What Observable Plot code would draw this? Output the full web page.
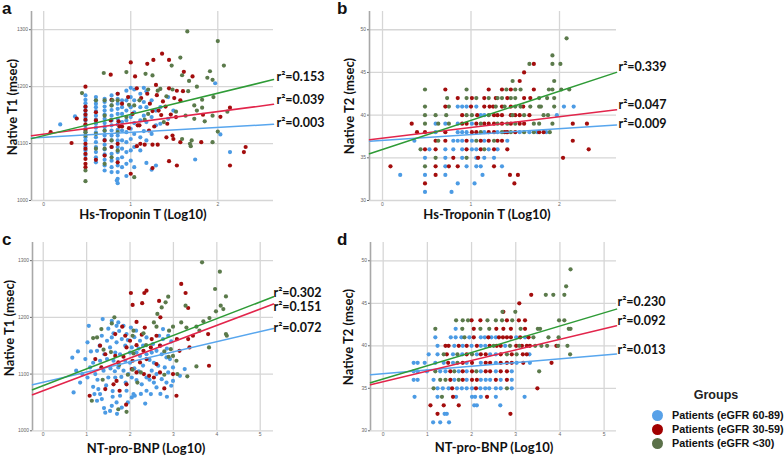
<!DOCTYPE html>
<html><head><meta charset="utf-8">
<script src="https://cdn.jsdelivr.net/npm/d3@7"></script>
<script src="https://cdn.jsdelivr.net/npm/@observablehq/plot@0.6"></script>
<style>
body{margin:0;background:#fff;}
#root{position:relative;width:784px;height:458px;overflow:hidden;background:#fff;font-family:"Liberation Sans",Arial,sans-serif;}
.pn{position:absolute;}
.pn svg{background:transparent !important;max-width:none !important;}
.t{position:absolute;white-space:nowrap;font-family:Lato,sans-serif;font-weight:bold;color:#111;transform:translate(-50%,-50%);}
.tv{transform:translate(-50%,-50%) rotate(-90deg);}
.let{position:absolute;font-family:"Liberation Sans",Arial,sans-serif;font-weight:bold;font-size:17px;color:#111;line-height:1;}
.leg{position:absolute;font-family:"Liberation Sans",Arial,sans-serif;}
</style></head>
<body><div id="root"></div>
<script>
// ---------- categories / ticks ----------
const GROUPS = ["Patients (eGFR 60-89)", "Patients (eGFR 30-59)", "Patients (eGFR <30)"];
const T1_TICKS = [1000, 1100, 1200, 1300];
const T2_TICKS = [30, 35, 40, 45, 50];
const TROP_TICKS = [0, 1, 2];
const BNP_TICKS = [0, 1, 2, 3, 4, 5];

// ---------- fitted lines: [intercept, slope] for blue, red, green ----------
const aFits = [[1111.2, 8.55], [1116.6, 19.8], [1113.9, 37.3]];
const bFits = [[37.05, 0.68], [37.29, 1.26], [35.97, 3.42]];
const cFits = [[1085.5, 17.9], [1070.7, 28.8], [1079.7, 29.5]];
const dFits = [[36.72, 0.437], [35.77, 1.248], [36.1, 1.556]];
const aR2 = ["0.003", "0.039", "0.153"];
const bR2 = ["0.009", "0.047", "0.339"];
const cR2 = ["0.072", "0.151", "0.302"];
const dR2 = ["0.013", "0.092", "0.230"];

// ---------- panel a: Hs-Troponin T vs Native T1 ----------
const aBlueCols = [
 [0.48,[1184.6,1177,1171,1164,1158,1152,1146.5,1140.6,1132,1126,1120,1111,1105.5,1095,1088,1080]],
 [0.60,[1181.6,1176,1170,1164,1157,1149,1142,1135,1128,1119.5,1111,1102.5,1094,1085,1076,1067]],
 [0.70,[1178.7,1173,1165,1158,1151,1143.5,1136,1129,1122,1114,1106.6,1098,1089.6,1081,1071.5,1061.5,1052.7]],
 [0.78,[1184.6,1176,1167,1159,1149,1140.6,1132,1123,1114,1105.5,1094,1082,1070,1058.6,1050]],
 [0.85,[1187.5,1178.7,1170,1161,1152,1143.5,1133.6,1124,1114,1105.5,1094,1085,1073,1061.5,1050,1038,1030.5]],
 [0.90,[1176,1164,1152,1137.7,1123,1105.5,1091,1076,1058.6]],
 [0.95,[1193,1176,1158,1140.6,1120,1102.5,1085,1064.5,1043]],
 [1.00,[1198,1181.6,1164,1146.5,1126,1108,1088,1070]],
 [1.04,[1195,1176,1155,1136,1117,1094,1058.6]],
 [1.11,[1187.5,1164,1140.6,1111,1088]],
 [1.15,[1198,1173,1149,1122]],
 [1.18,[1192,1164,1137.7,1105.5,1066]],
 [1.24,[1176,1146.5,1117,1054]],
 [1.29,[1158,1132,1061.5]],
 [1.34,[1164,1134.8]],
 [1.43,[1181.6,1143.5]],
 [1.49,[1158]]
];
const aBlueExtra = [[0.19,1133.6],[0.36,1147.6],[1.97,1206],[2.03,1116],[2.14,1085],[1.74,1072],[0.84,1035]];
const aRedCols = [
 [0.48,[1165,1158,1150.6,1142,1133.6,1124,1099.6,1091,1082,1073,1064.5,1058.6]],
 [0.60,[1155,1140.6]],
 [0.70,[1105.5,1079]],
 [0.78,[1177,1094]],
 [0.85,[1099.6,1067]],
 [0.90,[1170,1130]]
];
const aRedPairs = [[1.36,1258],[1.0,1242.6],[1.19,1240],[1.26,1247],[1.44,1247],[0.77,1221],[1.61,1226],[1.71,1218],[1.05,1218],[1.29,1203],[1.53,1192.8],[1.60,1192],[1.07,1197],[1.44,1197],[0.48,1200],[0.85,1187.5],[0.97,1181.6],[1.19,1187.5],[1.57,1176],[1.37,1174],[2.14,1163],[2.03,1147],[1.32,1158],[1.25,1157],[1.46,1151],[1.52,1146.5],[1.35,1150],[1.83,1150.6],[1.42,1134.8],[1.27,1130],[1.10,1132],[1.21,1123],[1.02,1152],[1.08,1132],[0.98,1127],[0.86,1139],[0.87,1130],[0.77,1140.6],[0.38,1144],[0.08,1120],[0.32,1101],[1.07,1095.5],[1.11,1099.6],[1.16,1098],[1.31,1098],[1.41,1111],[1.48,1114],[1.49,1108],[1.57,1102.5],[1.81,1102.5],[2.32,1094],[2.30,1085],[2.14,1061.5],[1.25,1098],[1.25,1057],[1.53,1061.5],[1.44,1069],[1.0,1047],[0.6,1071.5],[1.12,1180],[1.22,1170],[1.40,1165],[1.50,1180],[1.30,1185]];
const aGreenPairs = [[1.65,1297],[2.0,1280],[1.57,1251],[1.47,1237],[2.07,1237],[0.95,1225.6],[0.69,1224],[1.17,1222.6],[1.59,1220],[1.91,1227],[1.88,1215.6],[1.94,1212],[1.25,1219.7],[1.34,1196],[1.48,1195],[1.66,1192],[1.76,1200],[1.67,1210],[1.31,1193],[0.44,1188.7],[0.79,1176],[1.10,1176],[1.41,1183],[1.82,1177],[1.73,1167],[1.82,1163],[1.95,1181.6],[2.11,1156],[1.52,1156],[1.63,1149],[1.73,1143.5],[1.76,1158],[1.85,1139],[1.94,1149],[1.38,1137.7],[1.16,1142],[1.20,1152],[1.70,1105.5],[1.59,1108],[1.68,1099.6],[1.94,1102.5],[2.0,1121],[1.69,1095.5],[1.04,1041],[0.48,1034],[0.48,1052.7],[0.48,1120],[0.48,1114],[0.60,1176],[0.60,1117],[0.60,1091],[0.70,1176],[0.70,1149],[0.70,1123],[0.70,1091],[0.70,1064.5],[0.78,1167],[0.78,1105.5],[0.78,1076],[0.85,1176],[0.85,1120],[0.85,1088],[0.95,1146.5],[1.04,1167],[0.98,1168],[1.2,1195]];

// ---------- panel b: Hs-Troponin T vs Native T2 (rows: [T2, [log10 values]]) ----------
const bBlueRows = [[41,[0.85,0.90,0.95,1.06,2.05,2.16]],[40,[1.11,1.15,1.97]],[39,[0.60,0.71,0.85,1.01]],[38,[0.60,0.85,0.90,0.95,1.15,1.30,1.40,1.55,1.66,1.75,1.85]],[37,[0.36,0.80,0.85,0.90,1.01,1.15,1.41]],[36,[0.53,0.71,0.80,0.90,1.01,1.06,1.20,1.30]],[35,[0.48,0.71,0.90,1.06,1.15,1.26]],[34,[0.71,0.95,1.06,1.11,1.35]],[33,[0.20,0.48,0.71,1.13]],[32,[0.85,1.04]],[31,[0.48,0.78]]];
const bRedRows = [[46,[1.71]],[45,[1.60]],[44,[1.55]],[43,[0.71,1.20,1.35,1.45,1.71]],[42,[0.85,1.01,1.15,1.28,1.41,1.60,1.67]],[41,[0.71,1.00,1.15,1.21,1.25,1.35,1.45,1.59]],[40,[0.90,1.07,1.26,1.30,1.35,1.45,1.50,1.55,1.66]],[39,[0.33,0.90,0.95,1.06,1.15,1.20,1.26,1.35,1.45,1.55,1.60,2.15,2.31]],[38,[0.39,0.48,0.71,1.01,1.06,1.20,1.26,1.38,1.41,1.50,1.77,1.82]],[37,[0.60,0.71,0.95,1.11,1.20,1.30,1.35,2.15]],[36,[0.48,0.60,0.95,1.11,1.26,1.41,2.33]],[35,[0.80,1.08,2.04]],[34,[0.09,0.60,0.75,0.85,1.26]],[33,[0.60,1.44,1.53]],[32,[0.48,1.49]]];
const bGreenRows = [[49,[2.08]],[47,[1.92]],[46,[1.66,1.92,2.01]],[44,[1.47,1.94]],[43,[0.48,0.95,1.40,1.50,1.56,1.88,1.92,2.02,2.11]],[42,[0.73,0.95,1.06,1.20,1.30,1.35,1.45,1.50,1.77,1.86,1.94]],[41,[0.48,0.75,1.28,1.38,1.50,1.56,1.67,1.77,1.79,1.94]],[40,[0.48,0.60,0.72,0.95,1.01,1.20,1.47,1.60,1.82,1.87]],[39,[0.48,0.63,0.75,1.11,1.30,1.41,1.50,1.71,1.77,1.92]],[38,[1.11,1.35,1.45,1.60,1.71,1.89]],[37,[0.63,1.06,1.26]],[36,[0.43,1.15]],[35,[0.60,0.95]],[34,[0.48]]];

// ---------- panel c: NT-pro-BNP vs Native T1 ----------
const cBluePairs = [[0.67,1129],[0.70,1067.6],[0.76,1106],[0.85,1085],[1.02,1094],[1.05,1185],[1.02,1156],[1.15,1077.6],[1.24,1053],[1.27,1073.5],[1.18,1064.7],[1.31,1064.7],[1.35,1056],[1.43,1032],[1.54,1035],[1.58,1044],[1.58,1194],[1.69,1185],[1.73,1191],[1.47,1158.8],[1.58,1164.7],[1.69,1156],[1.81,1161.8],[1.89,1150],[2.0,1138],[2.04,1147],[2.15,1138],[2.23,1132],[2.38,1135],[2.50,1138],[2.61,1141],[2.73,1135],[2.84,1129.4],[2.92,1126.5],[1.31,1123.5],[1.47,1126.5],[1.62,1123.5],[1.73,1111.8],[1.85,1106],[1.96,1100],[2.04,1094],[2.15,1089.4],[2.27,1082],[2.38,1094],[2.50,1106],[2.61,1100],[2.73,1091],[2.84,1085],[2.95,1079.4],[2.38,1070.6],[2.08,1064.7],[1.92,1070.6],[1.77,1061.8],[1.69,1050],[1.81,1041],[2.04,1058.8],[2.11,1061.8],[2.61,1076.5],[2.48,1064.7],[1.39,1106],[1.50,1094],[1.66,1094],[1.20,1100],[1.08,1111.8],[0.97,1126.5],[1.24,1141],[1.35,1167.6],[1.54,1147],[1.41,1135],[1.66,1138],[1.77,1135],[1.89,1123.5],[1.92,1170.6],[2.02,1182],[2.14,1176.5],[2.23,1158.8],[2.38,1164.7],[2.53,1153],[2.67,1167.6],[2.76,1161.8],[2.88,1167.6],[2.95,1157.6],[2.76,1179.4],[2.65,1114.7],[2.80,1111.8],[2.88,1103],[2.99,1088],[3.15,1097],[3.26,1108.8],[2.99,1111.8],[1.37,1197],[1.50,1180],[1.62,1172],[1.75,1176],[1.85,1185],[1.95,1160],[2.10,1165],[2.20,1145],[2.30,1150],[2.45,1125],[2.55,1120],[2.70,1150],[2.85,1145],[1.55,1110],[1.65,1105],[1.80,1095],[1.90,1085],[2.00,1120],[2.10,1110],[2.20,1105],[2.30,1115],[2.45,1090],[2.55,1085],[2.70,1065],[2.85,1060],[1.45,1080],[1.60,1070],[1.25,1090],[1.10,1140],[1.30,1150],[1.15,1120],[0.90,1100],[0.80,1140],[1.95,1050],[2.25,1065],[2.35,1048],[1.60,1060],[1.40,1040],[1.70,1030]];
const cRedPairs = [[3.18,1259],[2.02,1243],[2.38,1247],[2.33,1243],[3.28,1243],[3.34,1216.5],[2.67,1229],[2.28,1225],[2.70,1200],[2.06,1222],[2.15,1192],[2.34,1182],[2.27,1169.4],[2.50,1161.8],[2.61,1167.6],[1.82,1183.5],[1.66,1170.6],[1.89,1167.6],[2.0,1158.8],[1.92,1147],[2.15,1151],[2.31,1141],[2.48,1147],[2.69,1150],[3.08,1161.8],[3.34,1161.8],[3.45,1167.6],[3.80,1170.6],[3.37,1147],[3.14,1141],[3.82,1114.7],[1.31,1150],[1.43,1135],[1.20,1126.5],[1.66,1132],[1.85,1130.6],[1.73,1120.6],[2.06,1123.5],[2.23,1120.6],[2.38,1126.5],[2.61,1117.6],[2.04,1108.8],[2.15,1103],[2.32,1100],[2.44,1097],[2.55,1094],[2.69,1103],[2.99,1100],[1.69,1088],[1.62,1082],[1.92,1082],[1.76,1070.6],[1.43,1073.5],[1.07,1061.8],[1.91,1046],[3.07,1061.8],[2.79,1074.7],[1.34,1111.8]];
const cGreenPairs = [[3.66,1297],[4.07,1280.6],[3.96,1250],[4.21,1237],[2.88,1236.5],[2.82,1226.5],[3.28,1220.6],[4.09,1220.6],[3.98,1210.6],[4.15,1214.7],[3.83,1198.8],[3.69,1193],[3.18,1191],[3.30,1182],[3.53,1183.5],[3.60,1176.5],[4.21,1170.6],[4.23,1167.6],[3.82,1147],[3.53,1113.5],[3.32,1096],[2.99,1183.5],[2.90,1176.5],[2.61,1183.5],[2.55,1191],[2.31,1171.8],[2.06,1167.6],[2.08,1176.5],[1.64,1200],[1.58,1189.4],[1.34,1179.4],[1.24,1164.7],[1.15,1163.5],[1.39,1143],[1.56,1138.8],[2.08,1136.5],[2.37,1151],[2.89,1130.6],[2.99,1132],[2.94,1144],[2.79,1140],[3.07,1123.5],[2.79,1098.8],[3.09,1100],[2.25,1103],[1.95,1098.8],[1.75,1116],[2.06,1107.6],[1.37,1090],[1.12,1053],[1.73,1038],[1.92,1033.5],[2.17,1085],[2.63,1206],[2.73,1217.6]];

// ---------- panel d: NT-pro-BNP vs Native T2 (rows) ----------
const dBlueRows = [[42,[1.64]],[41,[1.18,1.53,1.64,1.77,1.95,2.21,2.30,2.45,2.55,3.01,3.21]],[40,[1.23,1.61,1.80,2.00,2.21,2.31,2.76]],[39,[1.03,1.23,1.58,1.79,2.12,2.42,2.55,3.31]],[38,[0.69,0.78,0.94,1.18,1.37,1.58,1.89,2.21,2.55,3.02,3.32]],[37,[0.69,0.78,0.99,1.29,1.41,1.71,1.89,2.21,2.55,2.91]],[36,[0.69,0.78,1.14,1.61,1.89,2.21,2.32,2.42,2.66,2.91]],[35,[1.23,1.35,1.48,1.67,1.78,1.89,2.01,2.20,2.31,2.40,2.55,2.66,2.91]],[34,[0.71,1.23,1.65,2.01,2.08,2.21,2.55,3.20]],[33,[2.06,2.12,2.65]],[32,[1.39,1.44]],[31,[1.13,1.29,1.49]]];
const dRedRows = [[46,[3.35]],[45,[3.08]],[44,[2.72]],[43,[2.00,2.20,2.80,3.07,3.21]],[42,[2.05,2.56,2.72,2.89,3.21]],[41,[2.05,2.38,2.62,2.71,2.80,2.89,3.10,3.29]],[40,[1.41,1.48,1.71,1.89,2.12,2.41,2.57,2.66,3.01,3.14,3.25,3.32,3.92]],[39,[1.44,1.89,2.21,2.32,2.66,2.91,3.16,3.25]],[38,[1.47,1.80,2.01,2.32,2.42,2.66,2.80,2.91,3.17,3.81]],[37,[1.52,1.80,2.01,2.32,2.42,2.66,2.80]],[36,[1.52,1.80,2.01,2.12,2.55,2.80]],[35,[1.56,2.10,3.49]],[34,[1.58,2.35]],[33,[1.07,1.37,1.71]],[32,[1.23,2.88]]];
const dGreenRows = [[49,[4.24]],[47,[4.14]],[46,[3.68,3.85,4.10]],[44,[2.70,2.99]],[43,[1.65,1.80,1.92,2.36,2.55,2.69,2.92,3.98,4.10]],[42,[1.18,1.79,2.20,2.40,3.11,3.50,3.55,4.20,4.24]],[41,[1.84,3.40,3.74,3.97]],[40,[2.50,2.87,3.08,3.44,3.58,3.71,3.96,4.17]],[39,[1.37,1.68,2.01,2.80,3.02,4.23]],[38,[1.68]],[37,[1.18,1.61,2.11,3.53]],[36,[1.29,1.41,1.71]],[35,[1.14,2.80]],[34,[1.33]]];

// ---------- styles ----------
const DOT_COLORS = ["#4c9be4", "#a30d0d", "#5b7a4b"];
const LINE_COLORS = ["#58a6ee", "#e2254b", "#2e9b36"];
const LEGEND_COLORS = ["#58a1e8", "#a10000", "#5b7149"];

const fromCols = (cols, g) => cols.flatMap(([x, ys]) => ys.map(y => ({x, y, g})));
const fromRows = (rows, g) => rows.flatMap(([y, xs]) => xs.map(x => ({x, y, g})));
const fromPairs = (pairs, g) => pairs.map(([x, y]) => ({x, y, g}));

const root = document.getElementById("root");
const intFmt = d3.format("d");

function panel(o) {
  const fw = o.frame[2] - o.frame[0], fh = o.frame[3] - o.frame[1];
  const ML = 30, MR = 62, MT = 11, MB = 12;
  const marks = [
    Plot.ruleY(o.yTicks, {stroke: "#d6d6d6", strokeWidth: 1.3}),
    Plot.ruleX(o.xTicks, {stroke: "#d6d6d6", strokeWidth: 1.3}),
    Plot.ruleX([o.xDomain[0]], {stroke: "#a8a8a8", strokeWidth: 1.6}),
    Plot.dot(o.points, {x: "x", y: "y", r: 2.1, fill: d => DOT_COLORS[d.g], stroke: "none"})
  ];
  o.fits.forEach(([b0, b1], i) => {
    const seg = o.xDomain.map(x => ({x, y: b0 + b1 * x}));
    marks.push(Plot.line(seg, {x: "x", y: "y", stroke: LINE_COLORS[i], strokeWidth: 1.5}));
  });
  o.fits.forEach(([b0, b1], i) => {
    const xe = o.xDomain[1];
    marks.push(Plot.text([{x: xe, y: b0 + b1 * xe, t: "r\u00b2=" + o.r2[i]}], {
      x: "x", y: "y", text: "t", textAnchor: "start", dx: o.dx, dy: o.dy[i],
      fontFamily: "Lato, sans-serif", fontWeight: "bold", fontSize: 12.5, fill: "#111", clip: false
    }));
  });
  const svg = Plot.plot({
    width: ML + fw + MR, height: MT + fh + MB,
    marginLeft: ML, marginRight: MR, marginTop: MT, marginBottom: MB,
    style: {fontFamily: "Liberation Sans, Arial, sans-serif", fontSize: "5px", color: "#666", background: "transparent", overflow: "visible"},
    x: {domain: o.xDomain, ticks: o.xTicks, tickFormat: intFmt, tickSize: 0, tickPadding: 2, label: null},
    y: {domain: o.yDomain, ticks: o.yTicks, tickFormat: intFmt, tickSize: 2, tickPadding: 1.5, label: null},
    marks
  });
  const div = document.createElement("div");
  div.className = "pn";
  div.style.left = (o.frame[0] - ML) + "px";
  div.style.top = (o.frame[1] - MT) + "px";
  div.appendChild(svg);
  root.appendChild(div);
}

panel({frame: [31, 11, 273, 200], xDomain: [-0.14, 2.64], yDomain: [1000, 1332], xTicks: TROP_TICKS, yTicks: T1_TICKS,
  points: [...fromCols(aBlueCols, 0), ...fromPairs(aBlueExtra, 0), ...fromCols(aRedCols, 1), ...fromPairs(aRedPairs, 1), ...fromPairs(aGreenPairs, 2)],
  fits: aFits, r2: aR2, dx: 3, dy: [-1, -4, -3]});
panel({frame: [369, 11, 616, 200], xDomain: [-0.147, 2.644], yDomain: [30, 52.14], xTicks: TROP_TICKS, yTicks: T2_TICKS,
  points: [...fromRows(bBlueRows, 0), ...fromRows(bRedRows, 1), ...fromRows(bGreenRows, 2)],
  fits: bFits, r2: bR2, dx: 2, dy: [-1, -5, -5]});
panel({frame: [32, 241.7, 273, 430], xDomain: [-0.247, 5.306], yDomain: [1000, 1332], xTicks: BNP_TICKS, yTicks: T1_TICKS,
  points: [...fromPairs(cBluePairs, 0), ...fromPairs(cRedPairs, 1), ...fromPairs(cGreenPairs, 2)],
  fits: cFits, r2: cR2, dx: 0, dy: [0, 3, -4]});
panel({frame: [370, 241.7, 616, 430], xDomain: [-0.287, 5.28], yDomain: [30, 52.15], xTicks: BNP_TICKS, yTicks: T2_TICKS,
  points: [...fromRows(dBlueRows, 0), ...fromRows(dRedRows, 1), ...fromRows(dGreenRows, 2)],
  fits: dFits, r2: dR2, dx: 1, dy: [-4, -5, -7]});

// ---------- text: letters, axis titles ----------
function txt(cls, s, x, y, size) {
  const d = document.createElement("div");
  d.className = cls; d.textContent = s;
  d.style.left = x + "px"; d.style.top = y + "px";
  if (size) d.style.fontSize = size + "px";
  root.appendChild(d);
  return d;
}
txt("let", "a", 2, 0); txt("let", "b", 337, 0); txt("let", "c", 2, 231); txt("let", "d", 337, 231);
txt("t tv", "Native T1 (msec)", 12, 107, 13);
txt("t tv", "Native T2 (msec)", 349, 106, 13);
txt("t tv", "Native T1 (msec)", 9, 328, 13);
txt("t tv", "Native T2 (msec)", 348, 337, 13);
txt("t", "Hs-Troponin T (Log10)", 143, 214, 13);
txt("t", "Hs-Troponin T (Log10)", 487, 214, 13);
txt("t", "NT-pro-BNP (Log10)", 146, 448, 13);
txt("t", "NT-pro-BNP (Log10)", 494, 447, 13);

// ---------- legend ----------
const lt = txt("leg", "Groups", 716, 395, 12.5);
lt.style.transform = "translate(-50%,-50%)"; lt.style.fontWeight = "bold"; lt.style.color = "#222";
GROUPS.forEach((g, i) => {
  const y = 415 + i * 14;
  const c = document.createElement("div");
  c.style.cssText = `position:absolute;left:651.5px;top:${y - 5.5}px;width:11px;height:11px;border-radius:50%;background:${LEGEND_COLORS[i]};`;
  root.appendChild(c);
  const t = txt("leg", g, 672, y, 10.8);
  t.style.transform = "translateY(-50%)"; t.style.fontWeight = "bold"; t.style.color = "#111"; t.style.whiteSpace = "nowrap";
});
</script>
</body></html>
